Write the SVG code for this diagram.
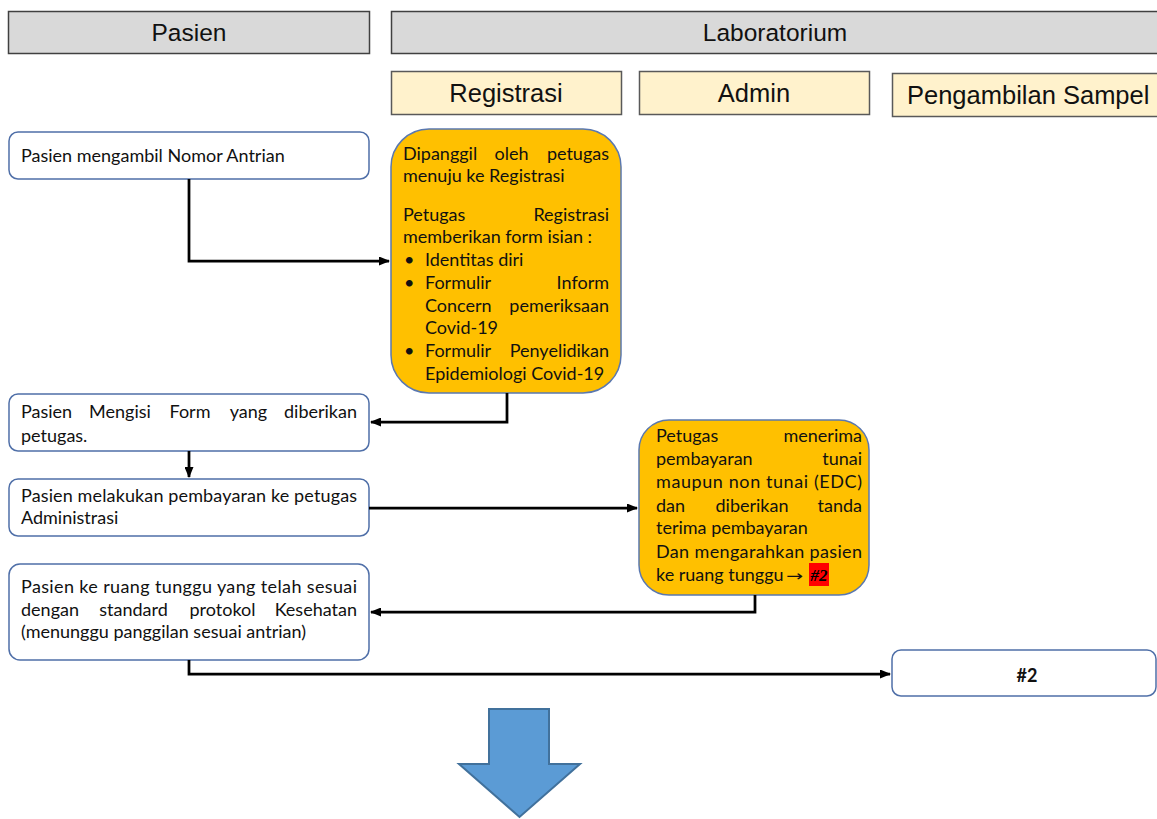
<svg xmlns="http://www.w3.org/2000/svg" width="1157" height="819" viewBox="0 0 1157 819">
<style>
.hdr{fill:#D9D9D9;stroke:#404040;stroke-width:1.5}
.sub{fill:#FFF2CC;stroke:#595959;stroke-width:1.5}
.ht{font-family:"Liberation Sans",Arial,sans-serif;font-size:24.5px;fill:#111;text-anchor:middle}
.st{font-size:25.5px}
.box{fill:#fff;stroke:#4F6FA8;stroke-width:1.5}
.org{fill:#FFC000;stroke:#5A78B0;stroke-width:1.5}
.t{font-family:Lato,"Open Sans",sans-serif;font-size:18px;fill:#111}
.e{text-anchor:end}
.m{text-anchor:middle}
.con{fill:none;stroke:#000;stroke-width:2.75}
</style>
<defs>
<marker id="ah" markerUnits="userSpaceOnUse" markerWidth="11" markerHeight="9" refX="10" refY="4.5" orient="auto">
<path d="M0,0 L11,4.5 L0,9 z" fill="#000"/>
</marker>
</defs>
<rect width="1157" height="819" fill="#fff"/>

<g id="lane-pasien"><rect class="hdr" x="8.5" y="11.5" width="361" height="42"/><text class="ht" x="189" y="41">Pasien</text></g>
<g id="lane-lab"><rect class="hdr" x="391.5" y="11.5" width="775" height="42"/><text class="ht" x="775" y="41">Laboratorium</text></g>
<g id="sub-registrasi"><rect class="sub" x="391.5" y="71.5" width="230" height="43"/><text class="ht st" x="506" y="102">Registrasi</text></g>
<g id="sub-admin"><rect class="sub" x="639.5" y="71.5" width="230" height="43"/><text class="ht st" x="754" y="102">Admin</text></g>
<g id="sub-sampel"><rect class="sub" x="892.5" y="73.5" width="275" height="43"/><text class="ht st" x="907" y="104" style="text-anchor:start">Pengambilan Sampel</text></g>

<g id="n-antrian"><rect class="box" x="9" y="132" width="360" height="47" rx="9"/><text class="t" x="21" y="162">Pasien mengambil Nomor Antrian</text></g>

<g id="n-registrasi"><rect class="org" x="391" y="129" width="230" height="264" rx="38"/>
<text class="t" x="403" y="160">Dipanggil</text><text class="t m" x="511.5" y="160">oleh</text><text class="t e" x="609" y="160">petugas</text>
<text class="t" x="403" y="182">menuju ke Registrasi</text>
<text class="t" x="403" y="221">Petugas</text><text class="t e" x="609" y="221">Registrasi</text>
<text class="t" x="403" y="243">memberikan form isian :</text>
<text class="t" x="404" y="266">•</text><text class="t" x="425" y="266">Identitas diri</text>
<text class="t" x="404" y="289">•</text><text class="t" x="425" y="289">Formulir</text><text class="t e" x="609" y="289">Inform</text>
<text class="t" x="425" y="312">Concern</text><text class="t e" x="609" y="312">pemeriksaan</text>
<text class="t" x="425" y="334">Covid-19</text>
<text class="t" x="404" y="357">•</text><text class="t" x="425" y="357">Formulir</text><text class="t e" x="609" y="357">Penyelidikan</text>
<text class="t" x="425" y="380">Epidemiologi Covid-19</text>
</g>

<g id="n-isi"><rect class="box" x="9" y="394" width="360" height="57" rx="9"/>
<text class="t" x="21" y="418">Pasien</text><text class="t m" x="120" y="418">Mengisi</text><text class="t m" x="190" y="418">Form</text><text class="t m" x="248.5" y="418">yang</text><text class="t e" x="357" y="418">diberikan</text>
<text class="t" x="21" y="442">petugas.</text>
</g>

<g id="n-bayar"><rect class="box" x="9" y="479" width="360" height="57" rx="9"/>
<text class="t" x="21" y="502" textLength="336" lengthAdjust="spacing">Pasien melakukan pembayaran ke petugas</text>
<text class="t" x="21" y="524">Administrasi</text>
</g>

<g id="n-tunggu"><rect class="box" x="9" y="564" width="360" height="96" rx="11"/>
<text class="t" x="21" y="593" textLength="336" lengthAdjust="spacing">Pasien ke ruang tunggu yang telah sesuai</text>
<text class="t" x="21" y="616">dengan</text><text class="t m" x="133.5" y="616">standard</text><text class="t m" x="222.5" y="616">protokol</text><text class="t e" x="357" y="616">Kesehatan</text>
<text class="t" x="21" y="638">(menunggu panggilan sesuai antrian)</text>
</g>

<g id="n-admin"><rect class="org" x="639" y="420" width="230" height="175" rx="30"/>
<text class="t" x="656" y="442">Petugas</text><text class="t e" x="862" y="442">menerima</text>
<text class="t" x="656" y="465">pembayaran</text><text class="t e" x="862" y="465">tunai</text>
<text class="t" x="656" y="488" textLength="206" lengthAdjust="spacing">maupun non tunai (EDC)</text>
<text class="t" x="656" y="512">dan</text><text class="t m" x="752" y="512">diberikan</text><text class="t e" x="862" y="512">tanda</text>
<text class="t" x="656" y="534">terima pembayaran</text>
<text class="t" x="656" y="558" textLength="206" lengthAdjust="spacing">Dan mengarahkan pasien</text>
<text class="t" x="656" y="581">ke ruang tunggu</text><text x="786" y="581" textLength="17" lengthAdjust="spacingAndGlyphs" style="font-family:'DejaVu Sans',sans-serif;font-size:15px;fill:#111">→</text>
<rect x="809" y="563" width="20" height="23" fill="#FF0000"/>
<text x="819" y="581" style="font-family:'Liberation Serif',serif;font-size:17px;font-weight:bold;font-style:italic;fill:#000;text-anchor:middle">#2</text>
</g>

<g id="n-2"><rect class="box" x="892" y="650" width="264" height="46" rx="9"/><text class="t" x="1027" y="682" style="font-weight:bold;text-anchor:middle">#2</text></g>

<g id="connectors">
<path class="con" d="M189,179 V261 H389" marker-end="url(#ah)"/>
<path class="con" d="M507,393 V422 H371" marker-end="url(#ah)"/>
<path class="con" d="M189,451 V477" marker-end="url(#ah)"/>
<path class="con" d="M369,508 H637" marker-end="url(#ah)"/>
<path class="con" d="M755,595 V612 H371" marker-end="url(#ah)"/>
<path class="con" d="M189,660 V674 H890" marker-end="url(#ah)"/>
</g>

<g id="big-arrow"><polygon points="489,709 549,709 549,764 580,764 519.5,817 459,764 489,764" fill="#5B9BD5" stroke="#41719C" stroke-width="2"/></g>
</svg>
